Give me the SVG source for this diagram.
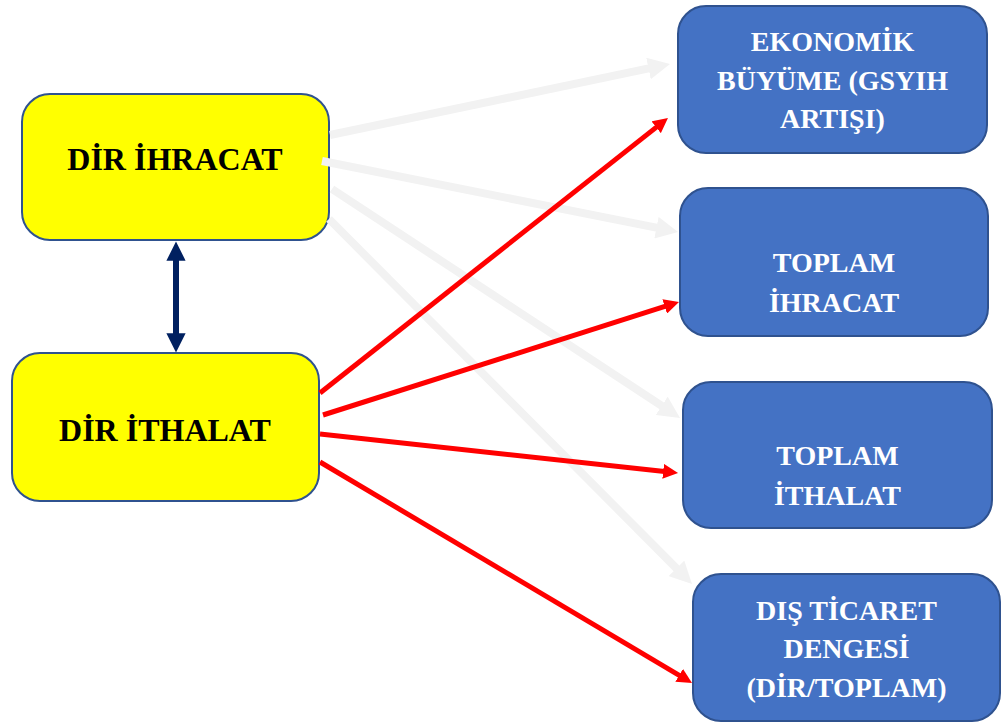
<svg xmlns="http://www.w3.org/2000/svg" width="1007" height="723" viewBox="0 0 1007 723">
<style>
.y{fill:#FFFF00;stroke:#2F528F;stroke-width:2}
.b{fill:#4472C4;stroke:#2F528F;stroke-width:2}
.ty{font-family:"Liberation Serif","Times New Roman",serif;font-weight:bold;font-size:32px;fill:#000;text-anchor:middle}
.tb{font-family:"Liberation Serif","Times New Roman",serif;font-weight:bold;font-size:28px;fill:#FFFFFF;text-anchor:middle}
.g{stroke:#F2F2F2;stroke-width:8;fill:none;marker-end:url(#ag)}
.r{stroke:#FF0000;stroke-width:5;fill:none;marker-end:url(#ar)}
</style>
<defs>
<marker id="ag" viewBox="0 0 10 10" refX="4" refY="5" markerWidth="2.75" markerHeight="2.75" orient="auto"><path d="M0,0 L10,5 L0,10 z" fill="#F2F2F2"/></marker>
<marker id="ar" viewBox="0 0 10 10" refX="4" refY="5" markerWidth="3" markerHeight="3" orient="auto"><path d="M0,0 L10,5 L0,10 z" fill="#FF0000"/></marker>
<marker id="an" viewBox="0 0 10 10" refX="4" refY="5" markerWidth="3.2" markerHeight="3.2" orient="auto-start-reverse"><path d="M0,0 L10,5 L0,10 z" fill="#002060"/></marker>
</defs>
<g id="dir-ihracat"><rect class="y" x="22" y="94" width="307" height="146" rx="28"/><text class="ty" x="175" y="170">DİR İHRACAT</text></g>
<g id="dir-ithalat"><rect class="y" x="12" y="353" width="307" height="148" rx="28"/><text class="ty" x="165" y="441">DİR İTHALAT</text></g>
<g id="ekonomik-buyume"><rect class="b" x="678" y="6" width="309" height="147" rx="28"/><text class="tb" x="832.5"><tspan x="832.5" y="51">EKONOMİK</tspan><tspan x="832.5" y="90">BÜYÜME (GSYIH</tspan><tspan x="832.5" y="128">ARTIŞI)</tspan></text></g>
<g id="toplam-ihracat"><rect class="b" x="680" y="188" width="308" height="148" rx="28"/><text class="tb" x="834"><tspan x="834" y="272">TOPLAM</tspan><tspan x="834" y="312">İHRACAT</tspan></text></g>
<g id="toplam-ithalat"><rect class="b" x="683" y="382" width="309" height="146" rx="28"/><text class="tb" x="837.5"><tspan x="837.5" y="465">TOPLAM</tspan><tspan x="837.5" y="505">İTHALAT</tspan></text></g>
<g id="dis-ticaret-dengesi"><rect class="b" x="693" y="574" width="307" height="147" rx="28"/><text class="tb" x="846.5"><tspan x="846.5" y="620">DIŞ TİCARET</tspan><tspan x="846.5" y="658">DENGESİ</tspan><tspan x="846.5" y="697">(DİR/TOPLAM)</tspan></text></g>
<g id="connectors">
<line class="g" x1="330" y1="135" x2="657.1" y2="66.7"/>
<line class="g" x1="322" y1="161" x2="665.1" y2="229.4"/>
<line class="g" x1="332" y1="189" x2="669" y2="410.7"/>
<line class="g" x1="329" y1="219" x2="682.7" y2="574.6"/>
<line class="r" x1="320" y1="393" x2="660.9" y2="123.6"/>
<line class="r" x1="323" y1="415" x2="670.4" y2="304.7"/>
<line class="r" x1="320" y1="434" x2="669.1" y2="472"/>
<line class="r" x1="320" y1="462" x2="684.3" y2="678.4"/>
<line x1="176" y1="253" x2="176" y2="341" stroke="#002060" stroke-width="6" marker-start="url(#an)" marker-end="url(#an)"/>
</g>
</svg>
